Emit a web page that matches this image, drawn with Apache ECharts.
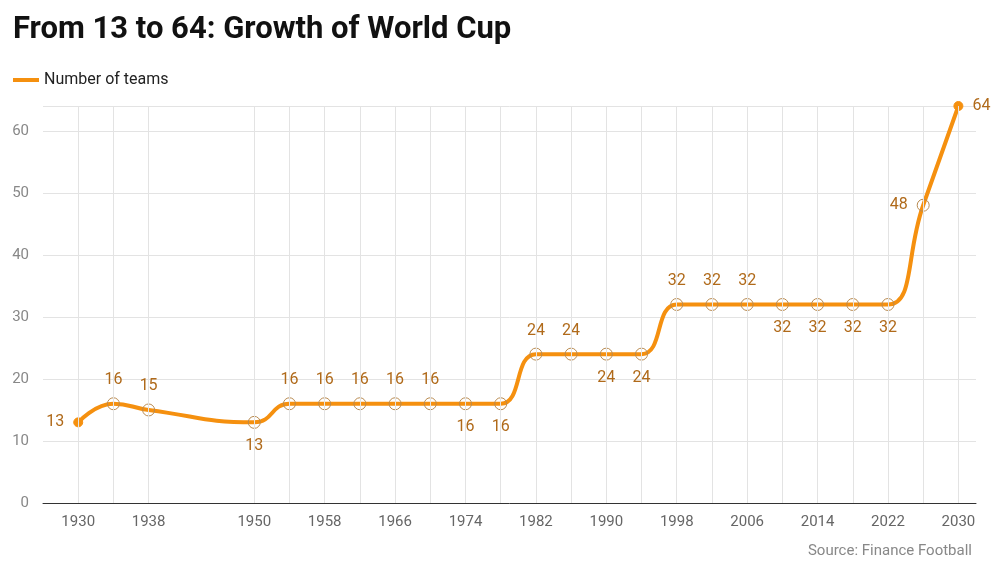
<!DOCTYPE html>
<html><head><meta charset="utf-8">
<script src="https://cdn.jsdelivr.net/npm/echarts@6/dist/echarts.min.js"></script>
<style>body{margin:0}#c{width:1001px;height:576px}</style></head>
<body><div id="c"></div>
<script>
const years = [1930,1934,1938,1950,1954,1958,1962,1966,1970,1974,1978,1982,1986,1990,1994,1998,2002,2006,2010,2014,2018,2022,2026,2030]
const teams = [13,16,15,13,16,16,16,16,16,16,16,24,24,24,24,32,32,32,32,32,32,32,48,64]
const labelPos = ['left','top','top','bottom','top','top','top','top','top','bottom','bottom','top','top','bottom','bottom','top','top','top','bottom','bottom','bottom','bottom','left','right']
const tickYears = [1930,1938,1950,1958,1966,1974,1982,1990,1998,2006,2014,2022,2030]

const orange = '#F5900F'
const chart = echarts.init(document.getElementById('c'))
chart.setOption({
  title: [
    {text: 'From 13 to 64: Growth of World Cup', left: 8, top: 10,
      textStyle: {fontFamily: 'Roboto', fontSize: 31, fontWeight: 'bold', color: '#111'}},
    {text: 'Source: Finance Football', right: 24, bottom: 12,
      textStyle: {fontFamily: 'Roboto', fontSize: 15, fontWeight: 'normal', color: '#888'}}
  ],
  legend: {left: 8, top: 67, itemWidth: 26, itemHeight: 4, icon: 'rect',
    textStyle: {fontFamily: 'Roboto', fontSize: 16, color: '#222'}},
  grid: {left: 43, right: 25, top: 106, bottom: 73},
  xAxis: {type: 'value', min: 1926, max: 2032, interval: 4,
    axisLine: {lineStyle: {color: '#333'}}, axisTick: {show: false}, splitLine: {show: false},
    axisLabel: {fontFamily: 'Roboto', fontSize: 15, color: '#666', margin: 12,
      formatter: v => tickYears.includes(v) ? String(v) : ''}},
  yAxis: {type: 'value', min: 0, max: 64, interval: 10,
    axisLine: {show: false}, axisTick: {show: false},
    splitLine: {lineStyle: {color: '#e3e3e3'}},
    axisLabel: {fontFamily: 'Roboto', fontSize: 15, color: '#888', margin: 14,
      formatter: v => v % 10 === 0 ? String(v) : ''}},
  series: [{
    name: 'Number of teams', type: 'line', smooth: 0.5,
    data: years.map((y, i) => ({
      value: [y, teams[i]],
      symbolSize: (i === 0 || i === years.length - 1) ? 9 : 12,
      itemStyle: (i === 0 || i === years.length - 1) ? {color: orange, borderColor: orange} : {color: 'rgba(255,255,255,0)', borderColor: '#B88A50', borderWidth: 1},
      label: {position: labelPos[i]}
    })),
    symbol: 'circle',
    lineStyle: {color: orange, width: 4},
    itemStyle: {color: orange},
    label: {show: true, distance: 9, fontFamily: 'Roboto', fontSize: 16, color: '#B06A1A'},
    markLine: {silent: true, symbol: 'none', label: {show: false},
      lineStyle: {color: '#e3e3e3', type: 'solid', width: 1},
      data: years.map(y => ({xAxis: y}))},
    z: 3
  }]
})
</script></body></html>
